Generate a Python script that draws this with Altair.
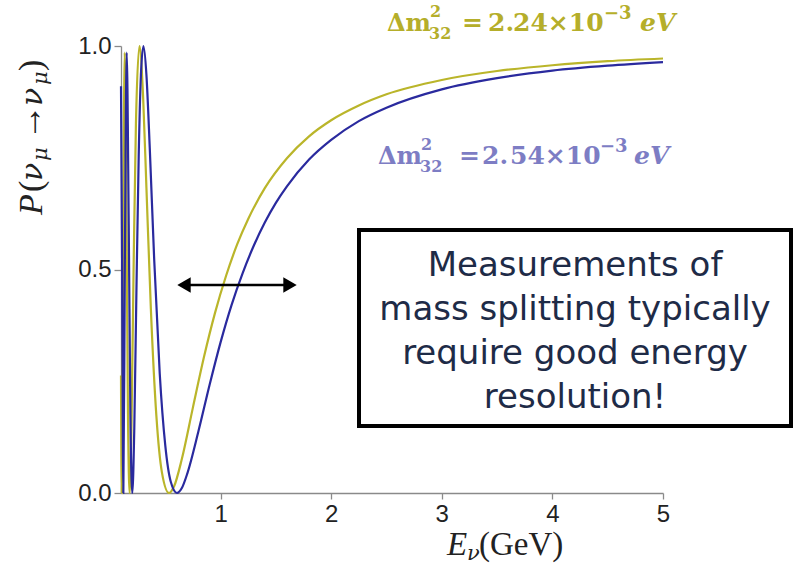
import altair as alt
import pandas as pd

# ---------------- data ----------------
E_BLUE = [0.100, 0.110, 0.1212, 0.135, 0.1515, 0.170, 0.185, 0.202, 0.220, 0.240,
          0.260, 0.280, 0.303, 0.330, 0.360, 0.400, 0.450, 0.500, 0.550, 0.606,
          0.650, 0.700, 0.800, 0.900, 1.00, 1.10, 1.20, 1.30, 1.40, 1.50,
          1.60, 1.80, 2.00, 2.25, 2.50, 3.00, 3.50, 4.00, 4.50, 5.00]
P_BLUE = [0.91, 0.513, 0.0, 0.519, 0.985, 0.599, 0.175, 0.0, 0.142, 0.461,
          0.753, 0.935, 1.0, 0.935, 0.772, 0.523, 0.268, 0.107, 0.025, 0.0,
          0.011, 0.044, 0.138, 0.241, 0.337, 0.421, 0.492, 0.553, 0.605, 0.649,
          0.686, 0.746, 0.790, 0.832, 0.862, 0.903, 0.928, 0.945, 0.956, 0.964]

E_YEL = [0.100, 0.1069, 0.118, 0.1336, 0.150, 0.163, 0.1781, 0.195, 0.215, 0.235,
         0.267, 0.300, 0.330, 0.370, 0.420, 0.470, 0.534, 0.580, 0.650, 0.750,
         0.850, 0.950, 1.05, 1.15, 1.25, 1.40, 1.60, 1.80, 2.00, 2.25,
         2.50, 3.00, 3.50, 4.00, 4.50, 5.00]
P_YEL = [0.263, 0.0, 0.456, 0.985, 0.597, 0.178, 0.0, 0.158, 0.523, 0.826,
         1.0, 0.886, 0.682, 0.412, 0.172, 0.046, 0.0, 0.015, 0.076, 0.191,
         0.304, 0.403, 0.486, 0.556, 0.613, 0.682, 0.749, 0.798, 0.834, 0.867,
         0.892, 0.924, 0.944, 0.957, 0.966, 0.972]

SERIES = ["2.24", "2.54"]
X_TICKS = [1, 2, 3, 4, 5]
Y_TICKS = [0.0, 0.5, 1.0]

LABEL_YEL = ["Δm", "2", "32", "=", "2.", "24×10", "−3", "eV"]
LABEL_BLUE = ["Δm", "2", "32", "=", "2.", "54×10", "−3", "eV"]
BOX_LINES = ["Measurements of", "mass splitting typically",
             "require good energy", "resolution!"]
Y_TITLE = ["P", "(", "ν", "μ", "→", "ν", "μ", ")"]
X_TITLE = ["E", "ν", "(GeV)"]

# ---------------- styles ----------------
YEL = "#bab52a"
BLUE = "#2a2a9e"
YEL_TXT = "#b5ae2a"
BLUE_TXT = "#7d7dc4"
INK = "#222222"
PAD_L, PAD_T = 121, 46
W, H = 542, 447

df = pd.DataFrame(
    {"E": E_YEL + E_BLUE,
     "P": P_YEL + P_BLUE,
     "series": [SERIES[0]] * len(E_YEL) + [SERIES[1]] * len(E_BLUE)}
)

lines = alt.Chart(df).mark_line(strokeWidth=2.2, interpolate="monotone").encode(
    x=alt.X("E:Q", scale=alt.Scale(domain=[0.1, 5], nice=False, zero=False),
            axis=alt.Axis(values=X_TICKS, format="d", title=None, tickSize=6,
                          labelPadding=3, labelFlush=False)),
    y=alt.Y("P:Q", scale=alt.Scale(domain=[0, 1], nice=False),
            axis=alt.Axis(values=Y_TICKS, format=".1f", title=None, tickSize=7,
                          labelPadding=3)),
    color=alt.Color("series:N", scale=alt.Scale(domain=SERIES, range=[YEL, BLUE]),
                    legend=None),
)


def txt(text, x, y, size, color, font, weight="normal", style="normal",
        align="left", angle=0, baseline="alphabetic"):
    return alt.Chart(alt.Data(values=[{"t": text}])).mark_text(
        fontSize=size, color=color, font=font, fontWeight=weight,
        fontStyle=style, align=align, baseline=baseline, angle=angle
    ).encode(text="t:N", x=alt.value(x - PAD_L), y=alt.value(y - PAD_T))


def label(parts, xs, base, color):
    f = "DejaVu Serif"
    return [
        txt(parts[0], xs[0], base, 24, color, f, "bold"),
        txt(parts[1], xs[1], base - 14, 16, color, f, "bold"),
        txt(parts[2], xs[2], base + 8, 16, color, f, "bold"),
        txt(parts[3], xs[3], base, 25, color, f, "bold"),
        txt(parts[4], xs[4], base, 25, color, f, "bold"),
        txt(parts[5], xs[5], base, 25, color, f, "bold"),
        txt(parts[6], xs[6], base - 12, 18, color, f, "bold"),
        txt(parts[7], xs[7], base, 25, color, f, "bold", "italic"),
    ]


layers = [lines]
layers += label(LABEL_YEL, [387, 430, 429, 462, 488, 513, 604, 640], 31, YEL_TXT)
layers += label(LABEL_BLUE, [378, 421, 420, 459, 482, 510, 600, 634], 164, BLUE_TXT)

# annotation box
box = alt.Chart(alt.Data(values=[{"a": 1}])).mark_rect(
    fill="white", stroke="black", strokeWidth=4
).encode(x=alt.value(359 - PAD_L), x2=alt.value(791 - PAD_L),
         y=alt.value(230 - PAD_T), y2=alt.value(426 - PAD_T))
layers.append(box)
for i, line in enumerate(BOX_LINES):
    layers.append(txt(line, 575, 276 + 44 * i, 34, "#1e2b47", "DejaVu Sans",
                      align="center"))

# double arrow
arrow = alt.Chart(alt.Data(values=[{"a": 1}])).mark_rule(
    color="black", strokeWidth=2.5
).encode(x=alt.value(182 - PAD_L), x2=alt.value(292 - PAD_L), y=alt.value(285 - PAD_T))
layers.append(arrow)
for shape, cx in [("triangle-left", 184), ("triangle-right", 290)]:
    layers.append(alt.Chart(alt.Data(values=[{"a": 1}])).mark_point(
        shape=shape, filled=True, size=240, color="black", opacity=1, strokeWidth=0
    ).encode(x=alt.value(cx - PAD_L), y=alt.value(285 - PAD_T)))

# y title (rotated, runs upward)
tf = "Liberation Serif"
gf = "DejaVu Serif"
yt = [  # (baseline x, start y, size, font, style)
    (42, 215, 34, tf, "italic"),
    (42, 192, 34, tf, "normal"),
    (42, 181, 30, gf, "italic"),
    (47, 161, 21, gf, "italic"),
    (41, 140, 36, tf, "normal"),
    (42, 106, 30, gf, "italic"),
    (47, 85, 21, gf, "italic"),
    (42, 71, 34, tf, "normal"),
]
for s, (bx, by, sz, fnt, st) in zip(Y_TITLE, yt):
    layers.append(txt(s, bx, by, sz, INK, fnt, style=st, angle=270))

# x title
layers.append(txt(X_TITLE[0], 447, 555, 33, INK, tf, style="italic"))
layers.append(txt(X_TITLE[1], 467, 560, 21, INK, gf, style="italic"))
layers.append(txt(X_TITLE[2], 479, 555, 33, INK, tf))

chart = alt.layer(*layers).properties(
    width=W, height=H,
    padding={"left": PAD_L, "top": PAD_T, "right": 801 - PAD_L - W,
             "bottom": 569 - PAD_T - H},
    autosize=alt.AutoSizeParams(type="none"),
).configure_view(stroke=None).configure_axis(
    grid=False, domainColor="#8a8a8a", tickColor="#8a8a8a", domainWidth=1.3,
    tickWidth=1.3, labelColor=INK, labelFont="Liberation Sans",
    labelFontSize=24,
)

chart.save("out.html", embed_options={"renderer": "svg", "actions": False})
